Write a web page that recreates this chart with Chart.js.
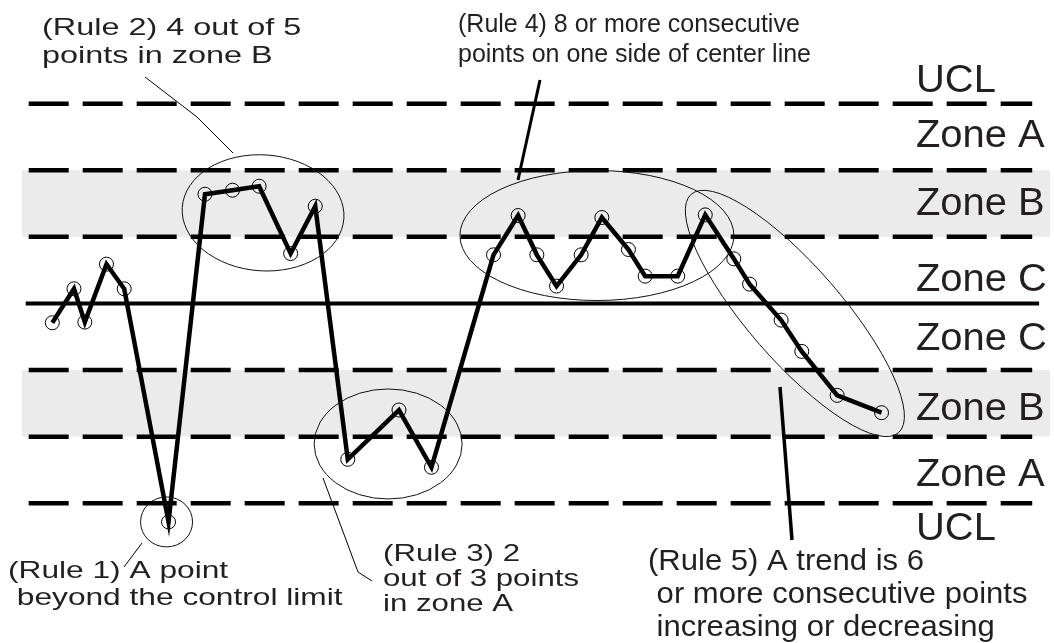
<!DOCTYPE html>
<html>
<head>
<meta charset="utf-8">
<script src="https://cdn.jsdelivr.net/npm/chart.js@4.4.1/dist/chart.umd.min.js"></script>
<style>
  html, body { margin: 0; padding: 0; background: #fff; }
  #wrap { position: relative; width: 1054px; height: 643px; }
</style>
</head>
<body>
<div id="wrap"><canvas id="chart"></canvas></div>
<script>
// run position of each sample and its value in sigma units
const sampleX = [45, 67, 78, 100, 118, 163, 200, 228, 255, 287, 312, 345, 397, 430, 493, 518, 537, 557, 582, 603, 630, 647, 680, 708, 737, 753, 785, 806, 842, 887];
const sampleY = [-0.29, 0.22, -0.28, 0.59, 0.22, -3.28, 1.64, 1.70, 1.76, 0.75, 1.46, -2.34, -1.60, -2.46, 0.73, 1.32, 0.73, 0.26, 0.73, 1.29, 0.81, 0.41, 0.41, 1.33, 0.67, 0.29, -0.25, -0.72, -1.38, -1.64];

// zone boundaries (sigma), center line, shaded zone B bands
const limitLevels = [3, 2, 1, -1, -2, -3];
const centerLevel = 0;
const shadedBands = [[1, 2], [-2, -1]];

// labels on the right, with the level they sit at
const zoneLabels = ["UCL", "Zone A", "Zone B", "Zone C", "Zone C", "Zone B", "Zone A", "UCL"];
const zoneLabelLevels = [3.38, 2.55, 1.53, 0.39, -0.49, -1.54, -2.54, -3.35];

// rule callouts: ellipse centre in chart units, everything else in canvas px
const callouts = [
  { lines: ["(Rule 1) A point", " beyond the control limit"], tx: 8, ty: 578, lh: 27, size: 24, sx: 1.32,
    ell: { x: 161, y: -3.28, rx: 26, ry: 25, rot: 0 }, leader: [[142, 543], [124, 567]], lw: 1 },
  { lines: ["(Rule 2) 4 out of 5", "points in zone B"], tx: 42, ty: 35, lh: 28, size: 24, sx: 1.35,
    ell: { x: 259, y: 1.36, rx: 81, ry: 58, rot: 4 }, leader: [[145, 77], [197, 117], [233, 153]], lw: 1 },
  { lines: ["(Rule 3) 2", "out of 3 points", "in zone A"], tx: 383, ty: 561, lh: 25, size: 24, sx: 1.3,
    ell: { x: 386, y: -2.11, rx: 74, ry: 55, rot: 0 }, leader: [[323, 478], [358, 572], [372, 581]], lw: 1 },
  { lines: ["(Rule 4) 8 or more consecutive", "points on one side of center line"], tx: 458, ty: 32, lh: 30, size: 25, sx: 1.0,
    ell: { x: 598, y: 1.02, rx: 137, ry: 65, rot: 0 }, leader: [[540, 80], [518, 180]], lw: 3 },
  { lines: ["(Rule 5) A trend is 6", " or more consecutive points", " increasing or decreasing"], tx: 648, ty: 570, lh: 33, size: 29, sx: 1.07,
    ell: { x: 799, y: -0.15, rx: 158, ry: 47, rot: 49 }, leader: [[780, 387], [792, 540]], lw: 3.5 }
];

const lineStartX = 21, lineEndX = 1040;
const bandStartX = 22, bandEndX = 1050;
const textColor = "#231f20";
const fontFamily = '"Liberation Sans", Arial, sans-serif';

function drawText(ctx, str, x, y, size, sx) {
  ctx.save();
  ctx.translate(x, y);
  ctx.scale(sx, 1);
  ctx.font = size + "px " + fontFamily;
  ctx.fillStyle = textColor;
  ctx.textBaseline = "alphabetic";
  ctx.fillText(str, 0, 0);
  ctx.restore();
}

const zonePlugin = {
  id: "zones",
  beforeDatasetsDraw(chart) {
    const ctx = chart.ctx;
    const ys = chart.scales.y;
    ctx.save();
    ctx.fillStyle = "#ebebeb";
    shadedBands.forEach(([lo, hi]) => {
      const top = ys.getPixelForValue(hi);
      const bot = ys.getPixelForValue(lo);
      ctx.fillRect(bandStartX, top, bandEndX - bandStartX, bot - top);
    });
    ctx.restore();
  },
  afterDatasetsDraw(chart) {
    const ctx = chart.ctx;
    const xs = chart.scales.x;
    const ys = chart.scales.y;
    ctx.save();
    zoneLabels.forEach((lab, i) => {
      const py = ys.getPixelForValue(zoneLabelLevels[i]) + 13.5;
      drawText(ctx, lab, 916, py, 38, 1.05);
    });
    callouts.forEach(c => {
      ctx.strokeStyle = "#111";
      ctx.lineWidth = 1;
      ctx.beginPath();
      ctx.ellipse(xs.getPixelForValue(c.ell.x), ys.getPixelForValue(c.ell.y), c.ell.rx, c.ell.ry,
        c.ell.rot * Math.PI / 180, 0, Math.PI * 2);
      ctx.stroke();
      ctx.lineWidth = c.lw;
      ctx.strokeStyle = "#000";
      ctx.beginPath();
      c.leader.forEach(([lx, ly], k) => (k ? ctx.lineTo(lx, ly) : ctx.moveTo(lx, ly)));
      ctx.stroke();
      c.lines.forEach((t, k) => drawText(ctx, t, c.tx, c.ty + k * c.lh, c.size, c.sx));
    });
    ctx.restore();
  }
};

const levelSets = limitLevels.map(lv => ({
  data: [{ x: lineStartX, y: lv }, { x: lineEndX, y: lv }],
  borderColor: "#000",
  borderWidth: 4.5,
  borderDash: [40, 14],
  borderCapStyle: "butt",
  pointRadius: 0
}));

new Chart(document.getElementById("chart"), {
  type: "line",
  data: {
    datasets: [
      ...levelSets,
      {
        data: [{ x: 18, y: centerLevel }, { x: 1047, y: centerLevel }],
        borderColor: "#000",
        borderWidth: 4,
        pointRadius: 0
      },
      {
        data: sampleX.map((x, i) => ({ x: x, y: sampleY[i] })),
        borderColor: "#000",
        borderWidth: 4.5,
        borderJoinStyle: "miter",
        tension: 0,
        pointRadius: 7,
        pointStyle: "circle",
        pointBorderWidth: 1,
        pointBorderColor: "#000",
        pointBackgroundColor: "rgba(0,0,0,0)"
      }
    ]
  },
  options: {
    responsive: true,
    maintainAspectRatio: false,
    animation: false,
    events: [],
    layout: { padding: 0 },
    plugins: { legend: { display: false }, tooltip: { enabled: false } },
    scales: {
      x: { type: "linear", min: 0, max: 1054, display: false },
      y: { type: "linear", min: -4.978, max: 4.436, display: false }
    }
  },
  plugins: [zonePlugin]
});
</script>
</body>
</html>
